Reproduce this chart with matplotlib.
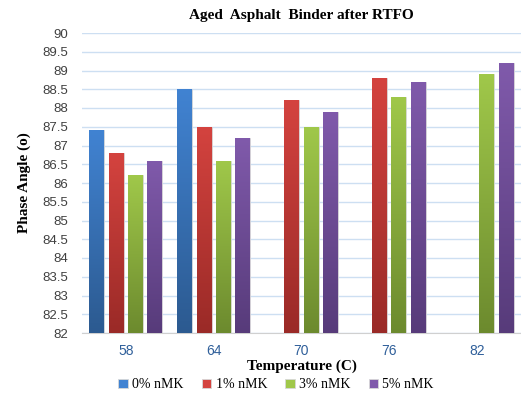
import numpy as np
import matplotlib
matplotlib.use("Agg")
import matplotlib.pyplot as plt
from matplotlib.colors import LinearSegmentedColormap

# data
temps = ["58", "64", "70", "76", "82"]
series = ["0% nMK", "1% nMK", "3% nMK", "5% nMK"]
nmk0 = [87.4, 88.5, np.nan, np.nan, np.nan]
nmk1 = [86.8, 87.5, 88.2, 88.8, np.nan]
nmk3 = [86.2, 86.6, 87.5, 88.3, 88.9]
nmk5 = [86.6, 87.2, 87.9, 88.7, 89.2]

# top / bottom colours of the gradient fill
tops = ["#4183d2", "#d4433f", "#a0c84a", "#805aab"]
bottoms = ["#2c5a90", "#9a2a27", "#6c8a2e", "#573b7a"]

ymin, ymax = 82, 90

fig = plt.figure(figsize=(5.21, 4.0), dpi=100)
ax = fig.add_axes([82 / 521, 1 - 333 / 400, 1 - 82 / 521, 300 / 400])

x = np.arange(len(temps))
step = 0.22
width = 0.17
values = [nmk0, nmk1, nmk3, nmk5]

grad = np.linspace(1, 0, 256).reshape(-1, 1)
handles = []
for i, vals in enumerate(values):
    offs = x + (i - 1.5) * step
    bars = ax.bar(offs, np.array(vals) - ymin, width, bottom=ymin,
                  color=tops[i], edgecolor="#d8d8d8", linewidth=0.6,
                  label=series[i], zorder=2)
    handles.append(bars)
    cmap = LinearSegmentedColormap.from_list("g%d" % i, [bottoms[i], tops[i]])
    for b, v in zip(bars, vals):
        if np.isnan(v):
            continue
        bx = b.get_x()
        im = ax.imshow(grad, cmap=cmap, aspect="auto", zorder=3,
                       extent=[bx, bx + width, ymin, v], origin="upper")
        im.set_clip_path(b)

ax.set_xlim(-0.5, 4.5)
ax.set_ylim(ymin, ymax)
ax.set_yticks(np.arange(82, 90.01, 0.5))
ax.set_yticklabels(["%g" % t for t in np.arange(82, 90.01, 0.5)],
                   fontsize=9.5, color="#404040", family="Liberation Sans")
ax.set_xticks(x)
ax.set_xticklabels(temps, fontsize=10, color="#2f5f9a", family="Liberation Sans")
ax.tick_params(axis="both", length=0)
ax.tick_params(axis="x", pad=8)
ax.tick_params(axis="y", pad=10)

ax.grid(axis="y", color="#cddff2", linewidth=1.0, zorder=0)
ax.set_axisbelow(True)
for s in ["top", "right", "left"]:
    ax.spines[s].set_visible(False)
ax.spines["bottom"].set_color("#d0d0d0")

ax.set_title("Aged  Asphalt  Binder after RTFO", fontsize=11, fontweight="bold",
             family="Liberation Serif", pad=10)
ax.set_ylabel("Phase Angle (o)", fontsize=11, fontweight="bold",
              family="Liberation Serif", labelpad=8)
ax.set_xlabel("Temperature (C)", fontsize=11, fontweight="bold",
              family="Liberation Serif", labelpad=1)

leg = fig.legend(handles=handles, labels=series, loc="lower center",
                 bbox_to_anchor=(0.53, 0.004), ncol=4, frameon=False,
                 prop={"family": "Liberation Serif", "size": 10},
                 handlelength=0.7, handleheight=0.7, handletextpad=0.3,
                 columnspacing=1.3, borderaxespad=0.1)

fig.savefig("out.png", dpi=100)
